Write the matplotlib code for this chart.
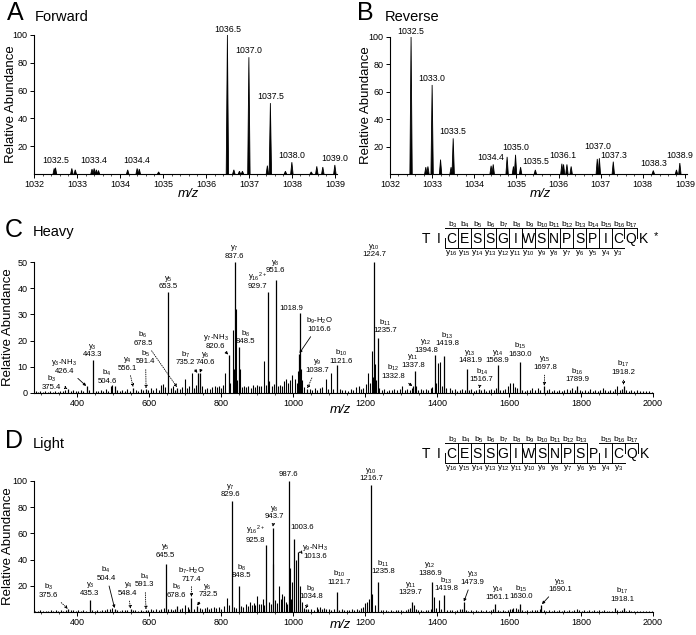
import matplotlib
matplotlib.use('Agg')
import matplotlib.pyplot as plt
from matplotlib.ticker import MultipleLocator, FuncFormatter
from matplotlib.lines import Line2D

plt.rcParams['font.family'] = ['Liberation Sans', 'DejaVu Sans']
plt.rcParams['mathtext.fontset'] = 'custom'
plt.rcParams['mathtext.rm'] = 'Liberation Sans'
plt.rcParams['mathtext.it'] = 'Liberation Sans:italic'
plt.rcParams['mathtext.default'] = 'regular'

# ---------------- data ----------------
forward_mz = [1032.47, 1032.5, 1032.88, 1032.96, 1033.35, 1033.4, 1033.45, 1033.5, 1034.18,
              1034.4, 1034.45, 1034.9, 1036.5, 1036.65, 1036.78, 1036.85, 1037.0, 1037.43,
              1037.5, 1037.85, 1038.0, 1038.45, 1038.58, 1038.72, 1039.0]
forward_h = [4, 4.5, 4, 3, 3.5, 4, 3, 2.5, 3, 4, 3.5, 1.5, 100, 3, 2, 2, 84, 6, 51, 2, 8.5,
             1.5, 5.5, 5, 6.5]
forward_lab = ["1032.5", "1033.4", "1034.4", "1036.5", "1037.0", "1037.5", "1038.0", "1039.0"]
forward_lab_mz = [1032.5, 1033.4, 1034.4, 1036.5, 1037.0, 1037.5, 1038.0, 1039.0]

reverse_mz = [1032.5, 1032.85, 1032.9, 1033.0, 1033.2, 1033.45, 1033.5, 1034.4, 1034.45,
              1034.78, 1034.93, 1034.98, 1035.1, 1035.45, 1036.08, 1036.12, 1036.2, 1036.3,
              1036.92, 1036.97, 1037.3, 1038.25, 1038.8, 1038.88]
reverse_h = [100, 5, 5.5, 65, 10.5, 5, 26, 6, 7, 12.5, 5.5, 14, 5, 3, 7.5, 7, 7, 5.5,
             11, 11.5, 9, 2.5, 3, 8]
reverse_lab = ["1032.5", "1033.0", "1033.5", "1034.4", "1035.0", "1035.5", "1036.1",
               "1037.0", "1037.3", "1038.3", "1038.9"]
reverse_lab_mz = [1032.5, 1033.0, 1033.5, 1034.38, 1034.98, 1035.45, 1036.1, 1036.94,
                  1037.3, 1038.25, 1038.88]

# label placement (text bottom, data units) for panels A and B
forward_lab_y = [6.5, 6.5, 6.5, 101, 85.5, 52.5, 10, 8]
reverse_lab_y = [101, 66.5, 28, 8.5, 16, 5.5, 10.5, 16.5, 10.5, 4.5, 10.5]

heavy_mz = [375.4, 426.4, 443.3, 504.6, 556.1, 591.4, 653.5, 678.5, 735.2, 740.6, 820.6,
            837.6, 848.5, 929.7, 951.6, 1016.6, 1018.9, 1038.7, 1121.6, 1224.7, 1235.7,
            1332.8, 1337.8, 1394.8, 1419.8, 1481.9, 1516.7, 1568.9, 1630.0, 1697.8,
            1789.9, 1918.2]
heavy_h = [1.5, 2.5, 12.5, 2.5, 2.0, 1.5, 38.5, 2.0, 7.5, 7.5, 14.5, 50, 17.5, 38.5, 43,
           15, 30.5, 1.5, 10.5, 50, 21, 2.5, 8.5, 14.5, 14, 9, 1.5, 10.5, 12, 2.5, 2.8, 2.8]

heavy_other = [(285,0.6),(291,0.4),(298,0.8),(304,0.5),(311,0.7),(318,0.4),(325,0.9),(332,0.5),
    (339,0.7),(346,0.4),(353,0.8),(360,0.6),(367,1.0),(382,0.7),(389,1.1),(396,0.6),(403,0.9),
    (410,1.2),(417,0.7),(432,1.0),(451,0.8),(458,0.6),(465,1.1),(472,0.7),(479,1.4),(486,0.9),
    (493,2.8),(497,3.0),(511,1.0),(518,0.7),(525,1.2),(532,0.8),(539,1.5),(546,0.9),(563,1.3),
    (570,0.8),(577,1.6),(584,1.0),(598,1.2),(605,2.0),(612,1.1),(619,1.8),(626,1.2),(632,3.0),
    (638,3.6),(645,2.2),(661,1.8),(667,2.5),(671,1.3),(685,1.6),(692,2.4),(700,5.5),(706,2.0),
    (712,2.8),(718,7.5),(724,1.8),(729,3.0),(748,2.5),(755,1.6),(762,2.0),(768,1.4),(775,2.2),
    (782,2.8),(789,2.1),(795,2.6),(801,1.8),(806,3.0),(812,7.5),(826,4.0),(833,24),(835,9),
    (841,32),(845,5),(852,9),(858,2.4),(864,2.8),(870,2.2),(876,2.6),(882,1.9),(888,2.9),
    (894,2.3),(900,3.1),(906,2.5),(912,2.8),(920,12.3),(925,3.0),(934,4.5),(940,2.6),(946,3.4),
    (957,2.8),(963,3.2),(970,2.5),(975,4.5),(981,5.5),(987,3.8),(992,4.8),(998,7.0),(1005,5.2),
    (1010,4.0),(1013,8.5),(1021,9.0),(1024,5.0),(1030,2.2),(1046,1.6),(1053,1.2),(1060,1.8),
    (1067,1.3),(1074,1.9),(1080,2.4),(1090,5.5),(1098,1.7),(1105,7.5),(1112,1.5),(1130,1.4),
    (1137,1.0),(1145,1.3),(1152,0.9),(1160,1.6),(1167,1.1),(1175,2.2),(1182,2.6),(1188,1.5),
    (1195,2.0),(1203,3.5),(1209,7.8),(1214,4.0),(1218,16),(1221,6.0),(1228,11),(1231,5.0),
    (1240,2.0),(1246,1.2),(1253,1.6),(1260,0.9),(1267,1.3),(1274,1.0),(1281,1.7),(1289,1.1),
    (1296,1.4),(1302,2.5),(1310,1.2),(1317,1.6),(1324,1.3),(1330,2.0),(1342,2.8),(1348,1.2),
    (1355,1.5),(1362,1.0),(1369,1.4),(1376,1.1),(1383,1.8),(1386,2.2),(1398,4.0),(1402,11.5),
    (1407,12),(1413,2.5),(1426,1.8),(1435,2.0),(1442,1.1),(1449,1.4),(1456,0.9),(1463,1.3),
    (1470,1.6),(1477,1.0),(1488,1.2),(1495,1.5),(1502,0.9),(1509,1.3),(1523,1.0),(1530,1.4),
    (1537,0.8),(1544,1.2),(1550,1.6),(1557,1.0),(1563,2.0),(1575,1.3),(1582,1.0),(1589,1.5),
    (1596,2.5),(1603,3.8),(1610,4.0),(1616,2.2),(1622,1.8),(1637,1.2),(1644,0.9),(1651,1.3),
    (1658,1.0),(1665,1.8),(1672,1.2),(1680,2.0),(1687,1.1),(1705,1.0),(1712,1.4),(1719,0.8),
    (1726,1.2),(1733,0.9),(1740,1.3),(1747,0.8),(1754,1.1),(1761,1.5),(1768,1.0),(1775,2.0),
    (1782,1.2),(1797,1.0),(1804,0.8),(1811,1.2),(1818,0.9),(1825,1.4),(1832,0.8),(1839,1.1),
    (1846,0.9),(1853,1.3),(1860,2.0),(1867,1.0),(1874,0.8),(1881,1.2),(1888,0.9),(1895,1.4),
    (1900,2.5),(1907,1.0),(1913,1.5),(1925,1.0),(1932,0.8),(1940,1.1),(1948,0.7),(1956,1.0),
    (1964,0.7),(1972,0.9),(1980,0.6),(1988,0.8),(1996,0.5)]

light_mz = [375.6, 435.3, 504.4, 548.4, 591.3, 645.5, 678.6, 717.4, 732.5, 829.6, 848.5,
            925.8, 943.7, 987.6, 1003.6, 1013.6, 1034.8, 1121.7, 1216.7, 1235.8, 1329.7,
            1386.9, 1419.8, 1473.9, 1561.1, 1630.0, 1690.1, 1918.1]
light_h = [2.0, 9.4, 2.5, 2.0, 1.5, 36.8, 4.5, 11, 4.5, 85, 19.5, 51, 64.5, 100, 55.5,
           45.5, 2.0, 15, 97, 23, 8, 23, 12.7, 7.4, 6, 6, 5.6, 3]

light_other = [(283,1.0),(290,0.7),(297,1.3),(305,0.8),(312,1.1),(319,0.6),(326,1.4),(333,0.9),
    (340,1.2),(347,0.7),(354,1.5),(361,1.0),(368,1.8),(382,1.2),(389,1.6),(396,0.9),(403,1.4),
    (410,1.1),(417,1.7),(424,1.0),(442,1.3),(449,0.8),(456,1.5),(463,1.0),(470,1.8),(477,1.2),
    (484,2.0),(490,2.5),(497,3.0),(511,1.5),(518,1.0),(525,1.7),(532,1.2),(539,1.9),(555,1.3),
    (562,1.8),(569,1.1),(576,1.6),(583,1.0),(598,1.5),(605,2.2),(612,1.4),(619,2.0),(626,1.6),
    (633,2.4),(640,3.0),(652,2.0),(660,2.2),(667,1.6),(673,2.5),(685,2.0),(692,2.8),(700,5.0),
    (707,4.0),(712,2.5),(724,2.2),(740,2.8),(747,2.0),(754,3.0),(760,3.5),(767,2.5),(772,3.0),
    (780,4.0),(787,2.8),(794,3.5),(801,2.6),(808,4.2),(815,10.7),(822,5.0),(836,4.0),(842,3.0),
    (855,4.5),(862,3.8),(870,6.0),(875,4.5),(880,8.0),(885,5.0),(890,7.0),(895,5.5),(900,12.4),
    (905,6.0),(910,6.0),(915,10.0),(920,5.0),(933,8.0),(938,6.0),(945,37),(950,9.0),(955,7.0),
    (960,19.5),(966,10),(970,14),(975,12),(980,8.0),(984,6.0),(990,33.5),(995,10),(998,23),
    (1008,40),(1018,9.0),(1020,20),(1025,8.0),(1029,3.0),(1042,2.0),(1050,2.5),(1057,1.8),
    (1065,3.5),(1070,2.4),(1075,4.0),(1080,2.6),(1085,3.0),(1092,2.0),(1099,2.6),(1106,1.8),
    (1113,2.2),(1128,1.6),(1135,2.0),(1142,1.4),(1149,1.8),(1156,1.2),(1163,2.0),(1170,1.5),
    (1177,2.4),(1184,1.8),(1190,3.0),(1195,4.0),(1200,7.0),(1205,8.0),(1212,10),(1220,13.7),
    (1228,5.0),(1243,1.8),(1250,1.2),(1257,1.6),(1264,1.0),(1271,1.5),(1278,1.1),(1285,1.8),
    (1292,1.2),(1299,1.6),(1306,1.0),(1313,1.9),(1320,2.5),(1325,3.0),(1335,5.0),(1341,2.2),
    (1348,1.4),(1355,1.8),(1362,1.1),(1369,1.5),(1376,1.2),(1382,2.0),(1392,11.4),(1397,3.0),
    (1404,9.4),(1410,2.5),(1428,1.8),(1435,1.3),(1442,1.6),(1449,1.0),(1456,1.5),(1463,2.0),
    (1468,2.5),(1480,1.4),(1487,1.0),(1494,1.5),(1501,1.1),(1508,1.6),(1515,1.0),(1522,1.4),
    (1529,1.0),(1536,1.5),(1543,1.1),(1550,1.8),(1556,2.2),(1568,1.3),(1575,1.0),(1582,1.5),
    (1589,1.1),(1596,1.6),(1603,2.0),(1608,2.6),(1612,3.0),(1620,3.0),(1625,2.0),(1637,1.4),
    (1644,1.0),(1651,1.5),(1658,1.0),(1665,1.6),(1672,1.2),(1679,1.8),(1685,2.4),(1697,1.4),
    (1704,1.0),(1711,1.6),(1718,1.0),(1725,1.4),(1732,0.9),(1739,1.3),(1746,0.9),(1753,1.2),
    (1760,0.8),(1767,1.3),(1774,0.9),(1781,1.5),(1788,2.0),(1795,1.2),(1802,0.9),(1809,1.3),
    (1816,0.8),(1823,1.2),(1830,0.9),(1837,1.4),(1844,0.8),(1851,1.2),(1858,0.9),(1865,1.3),
    (1872,0.8),(1879,1.1),(1886,0.9),(1894,3.0),(1901,1.2),(1908,1.0),(1913,1.5),(1925,0.9),
    (1932,1.2),(1940,0.8),(1948,1.1),(1956,0.7),(1964,1.0),(1972,0.6),(1980,0.9),(1988,0.6),
    (1996,0.8)]

# annotation: (text, peak m/z, peak height, text x, text bottom y, arrow)
heavy_labels = [
    ("b$_3$\n375.4", 375.4, 1.5, 329, 0.9, 'dot'),
    ("y$_3$-NH$_3$\n426.4", 426.4, 2.5, 364, 7.0, 'solid'),
    ("y$_3$\n443.3", 443.3, 12.5, 443.3, 13.3, None),
    ("b$_4$\n504.6", 504.6, 2.5, 483, 3.2, None),
    ("y$_4$\n556.1", 556.1, 2.0, 540, 8.2, 'dot'),
    ("b$_5$\n591.4", 591.4, 1.5, 590, 10.5, 'dot'),
    ("b$_6$\n678.5", 678.5, 2.0, 583, 17.6, 'dot'),
    ("y$_5$\n653.5", 653.5, 38.5, 653.5, 39.3, None),
    ("b$_7$\n735.2", 735.2, 7.5, 700, 10.3, 'solid'),
    ("y$_6$\n740.6", 740.6, 7.5, 755, 10.3, 'solid'),
    ("y$_7$-NH$_3$\n820.6", 820.6, 14.5, 784, 16.5, 'solid'),
    ("y$_7$\n837.6", 837.6, 50, 836, 50.8, None),
    ("b$_8$\n848.5", 848.5, 17.5, 868, 18.3, None),
    ("y$_{16}$$^{2+}$\n929.7", 929.7, 38.5, 900, 39.3, None),
    ("y$_8$\n951.6", 951.6, 43, 951.6, 45.4, None),
    ("1018.9", 1018.9, 30.5, 996, 31.0, None),
    ("b$_9$-H$_2$O\n1016.6", 1016.6, 15, 1072, 23, 'solid'),
    ("y$_9$\n1038.7", 1038.7, 1.5, 1067, 7.3, 'dot'),
    ("b$_{10}$\n1121.6", 1121.6, 10.5, 1133, 10.8, None),
    ("y$_{10}$\n1224.7", 1224.7, 50, 1224.7, 51.5, None),
    ("b$_{11}$\n1235.7", 1235.7, 21, 1256, 22.5, None),
    ("b$_{12}$\n1332.8", 1332.8, 2.5, 1277, 5.0, 'solid'),
    ("y$_{11}$\n1337.8", 1337.8, 8.5, 1334, 9.2, None),
    ("y$_{12}$\n1394.8", 1394.8, 14.5, 1370, 15.0, None),
    ("b$_{13}$\n1419.8", 1419.8, 14, 1429, 17.5, None),
    ("y$_{13}$\n1481.9", 1481.9, 9, 1492, 11.0, None),
    ("b$_{14}$\n1516.7", 1516.7, 1.5, 1524, 3.8, 'dot'),
    ("y$_{14}$\n1568.9", 1568.9, 10.5, 1568, 10.9, None),
    ("b$_{15}$\n1630.0", 1630.0, 12, 1631, 13.4, None),
    ("y$_{15}$\n1697.8", 1697.8, 2.5, 1700, 8.4, 'dot'),
    ("b$_{16}$\n1789.9", 1789.9, 2.8, 1790, 3.8, None),
    ("b$_{17}$\n1918.2", 1918.2, 2.8, 1918, 6.5, 'dot'),
]

light_labels = [
    ("b$_3$\n375.6", 375.6, 2.0, 320, 10, 'dot'),
    ("y$_3$\n435.3", 435.3, 9.4, 435.3, 11.5, None),
    ("b$_4$\n504.4", 504.4, 2.5, 480, 23, 'solid'),
    ("y$_4$\n548.4", 548.4, 2.0, 541, 11.5, 'dot'),
    ("b$_4$\n591.3", 591.3, 1.5, 588, 18, 'dot'),
    ("y$_5$\n645.5", 645.5, 36.8, 645.5, 40.5, None),
    ("b$_6$\n678.6", 678.6, 4.5, 676, 10.0, None),
    ("b$_7$-H$_2$O\n717.4", 717.4, 11, 717.4, 22.5, 'dot'),
    ("y$_6$\n732.5", 732.5, 4.5, 763, 10.5, 'solid'),
    ("y$_7$\n829.6", 829.6, 85, 825, 87, None),
    ("b$_8$\n848.5", 848.5, 19.5, 856, 25, None),
    ("y$_{16}$$^{2+}$\n925.8", 925.8, 51, 895, 52, None),
    ("y$_8$\n943.7", 943.7, 64.5, 948, 70, 'dot'),
    ("987.6", 987.6, 100, 987.6, 102, None),
    ("1003.6", 1003.6, 55.5, 1024, 62, None),
    ("y$_9$-NH$_3$\n1013.6", 1013.6, 45.5, 1060, 40, 'dot'),
    ("b$_9$\n1034.8", 1034.8, 2.0, 1049, 9, 'dot'),
    ("b$_{10}$\n1121.7", 1121.7, 15, 1129, 20, None),
    ("y$_{10}$\n1216.7", 1216.7, 97, 1216.7, 99, None),
    ("b$_{11}$\n1235.8", 1235.8, 23, 1251, 28, None),
    ("y$_{11}$\n1329.7", 1329.7, 8, 1326, 12, None),
    ("y$_{12}$\n1386.9", 1386.9, 23, 1380, 27, None),
    ("b$_{13}$\n1419.8", 1419.8, 12.7, 1426, 15, None),
    ("y$_{13}$\n1473.9", 1473.9, 7.4, 1499, 20, 'solid'),
    ("y$_{14}$\n1561.1", 1561.1, 6, 1568, 8.5, None),
    ("b$_{15}$\n1630.0", 1630.0, 6, 1634, 9, None),
    ("y$_{15}$\n1690.1", 1690.1, 5.6, 1741, 14.5, 'solid'),
    ("b$_{17}$\n1918.1", 1918.1, 3, 1914, 7, None),
]

peptide = "TICESSGIWSNPSPICQK"
heavy_b_ions = [3, 4, 5, 6, 7, 8, 9, 10, 11, 12, 13, 14, 15, 16, 17]
heavy_y_ions = [16, 15, 14, 13, 12, 11, 10, 9, 8, 7, 6, 5, 4, 3]
light_b_ions = [3, 4, 5, 6, 7, 8, 9, 10, 11, 12, 13, 15, 16, 17]
light_y_ions = [16, 15, 14, 13, 12, 11, 10, 9, 8, 7, 6, 5, 4, 3]

# ---------------- figure ----------------
W, H = 696, 635
fig = plt.figure(figsize=(W / 100, H / 100), dpi=100)
LFS = 5.6   # fragment label font size


def ax_px(l, r, t, b):
    return fig.add_axes([l / W, 1 - b / H, (r - l) / W, (b - t) / H])


def P(px, py):
    return (px / W, 1 - py / H)


def style(ax, xmaj, xmin, yt, fmt):
    for s in ['top', 'right']:
        ax.spines[s].set_visible(False)
    for s in ['left', 'bottom']:
        ax.spines[s].set_linewidth(0.8)
    ax.xaxis.set_major_locator(MultipleLocator(xmaj))
    ax.xaxis.set_minor_locator(MultipleLocator(xmin))
    ax.xaxis.set_major_formatter(FuncFormatter(fmt))
    ax.set_yticks(yt)
    ax.tick_params(which='major', direction='out', length=3, width=0.7, labelsize=6.5, pad=1.5)
    ax.tick_params(which='minor', direction='out', length=1.5, width=0.5)
    ax.tick_params(axis='y', which='minor', left=False)


int_fmt = lambda v, p: f"{v:.0f}"

# A / B
for box, mz, hh, labs, lmz, ly in [
        ((34, 337, 35, 174), forward_mz, forward_h, forward_lab, forward_lab_mz, forward_lab_y),
        ((390, 687, 37, 174), reverse_mz, reverse_h, reverse_lab, reverse_lab_mz, reverse_lab_y)]:
    ax = ax_px(*box)
    ax.set_xlim(1032, 1039.05)
    ax.set_ylim(0, 100)
    style(ax, 1, 0.2, [20, 40, 60, 80, 100], int_fmt)
    w = 0.028
    for m, v in zip(mz, hh):
        ax.fill([m - w, m, m + w], [0, v, 0], facecolor='k', edgecolor='k', lw=0.6, clip_on=False)
    for t, m, y in zip(labs, lmz, ly):
        ax.text(m, y, t, ha='center', va='bottom', fontsize=6.3)


def spectrum(box, ymax, yt, mz, hh, other, labels):
    ax = ax_px(*box)
    ax.set_xlim(280, 2000)
    ax.set_ylim(0, ymax)
    style(ax, 200, 50, yt, int_fmt)
    ax.vlines([o[0] for o in other], 0, [o[1] for o in other], color='k', lw=0.8)
    ax.vlines(mz, 0, hh, color='k', lw=0.9)
    for t, m, v, tx, ty, arr in labels:
        if arr is None:
            ax.text(tx, ty, t, ha='center', va='bottom', fontsize=LFS, linespacing=0.9)
        else:
            ax.annotate(t, xy=(m, v), xytext=(tx, ty), ha='center', va='bottom', fontsize=LFS,
                        linespacing=0.9,
                        arrowprops=dict(arrowstyle='-|>', lw=0.6, color='k',
                                        ls=':' if arr == 'dot' else '-',
                                        mutation_scale=4, shrinkA=1, shrinkB=0.5))
    return ax


spectrum((34, 653, 262, 393), 50, [0, 10, 20, 30, 40, 50], heavy_mz, heavy_h, heavy_other, heavy_labels)
spectrum((34, 653, 481, 612), 100, [20, 40, 60, 80, 100], light_mz, light_h, light_other, light_labels)


def draw_seq(x0, dx, yc, b_ions, y_ions):
    for i, ch in enumerate(peptide):
        fig.text(*P(x0 + i * dx, yc + 5), ch, ha='center', va='baseline', fontsize=10)
    top, bot = yc - 10, yc + 10
    for n in b_ions:
        cx = x0 + (n - 0.5) * dx
        xs, ys = zip(P(cx, yc), P(cx, top), P(cx - dx, top))
        fig.add_artist(Line2D(xs, ys, lw=0.7, color='k', transform=fig.transFigure))
        fig.text(*P(x0 + (n - 1) * dx + 1, yc - 11), f"b$_{{{n}}}$", ha='center',
                 va='baseline', fontsize=6)
    for n in y_ions:
        k = len(peptide) - n
        cx = x0 + (k - 0.5) * dx
        xs, ys = zip(P(cx, yc), P(cx, bot), P(cx + dx, bot))
        fig.add_artist(Line2D(xs, ys, lw=0.7, color='k', transform=fig.transFigure))
        fig.text(*P(x0 + k * dx, yc + 16), f"y$_{{{n}}}$", ha='center',
                 va='baseline', fontsize=6)


draw_seq(426, 12.8, 238, heavy_b_ions, heavy_y_ions)
fig.text(*P(656, 236), "*", ha='center', va='center', fontsize=8)
draw_seq(426, 12.85, 453, light_b_ions, light_y_ions)

# panel titles
for px, py, t in [(7, 20, 'A'), (357, 20, 'B'), (5, 237, 'C'), (5, 448, 'D')]:
    fig.text(*P(px, py), t, fontsize=18, va='baseline', ha='left')
for px, py, t in [(35, 21, 'Forward'), (385, 21, 'Reverse'), (33, 236, 'Heavy'), (33, 448, 'Light')]:
    fig.text(*P(px, py), t, fontsize=10.5, va='baseline', ha='left')

# axis labels
for px, py in [(11, 104), (366, 105), (8, 327), (8, 546)]:
    fig.text(*P(px, py), 'Relative Abundance', rotation=90, ha='center', va='center', fontsize=9.5)
for px, py in [(188, 194), (540, 194), (340, 410), (340, 625)]:
    fig.text(*P(px, py), 'm/z', style='italic', ha='center', va='center', fontsize=9.5)

fig.savefig('out.png', dpi=100)
